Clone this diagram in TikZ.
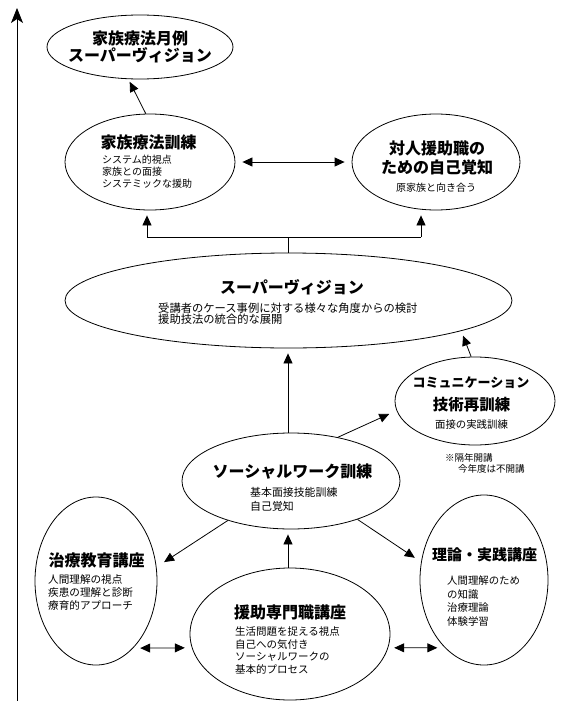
\documentclass[tikz,border=0pt]{standalone}
\usepackage{fontspec}
\setmainfont{Noto Sans CJK JP}
\usetikzlibrary{shapes.geometric,arrows.meta,calc}
\lineskiplimit=-20pt
\begin{document}
\begin{tikzpicture}[x=1pt,y=-1pt,
  ell/.style={ellipse,draw,line width=0.8pt,inner sep=0pt},
  ttl/.style={inner sep=0pt,align=center,font=\fontsize{16}{17}\selectfont\bfseries},
  sub/.style={inner sep=0pt,anchor=west,align=left,font=\fontsize{10.5}{12.7}\selectfont},
  plain/.style={inner sep=0pt,align=center},
  conn/.style={line width=0.8pt},
  arr/.style={conn,-{Triangle[length=10pt,width=9pt]}},
  dbl/.style={conn,{Triangle[length=10pt,width=9pt]}-{Triangle[length=10pt,width=9pt]}},
  axis/.style={line width=0.9pt,-{Stealth[length=15pt,width=12pt,inset=4pt]}}]
\path[fill=white,use as bounding box] (0,0) rectangle (575,701);

% axis
\coordinate (axB) at (17,701);
\coordinate (axT) at (17,8);
\draw[axis] (axB) -- (axT);

% ellipses
\node[ell,minimum width=186pt,minimum height=64pt] (famsv) at (140,47) {};
\node[ell,minimum width=170pt,minimum height=96pt] (fam) at (150,162) {};
\node[ell,minimum width=168pt,minimum height=96pt] (self) at (436,162) {};
\node[ell,minimum width=447pt,minimum height=95pt] (sv) at (288.5,300.5) {};
\node[ell,minimum width=160pt,minimum height=88pt] (comm) at (475,401) {};
\node[ell,minimum width=218pt,minimum height=96pt] (sw) at (291,481) {};
\node[ell,minimum width=122pt,minimum height=168pt] (chi) at (96,581) {};
\node[ell,minimum width=200pt,minimum height=132pt] (enjo) at (290,634) {};
\node[ell,minimum width=128pt,minimum height=170pt] (riron) at (484,580) {};

% texts
\node[ttl] (famsvT) at (140,46.5) {家族療法月例\\スーパーヴィジョン};

\node[ttl] (famT) at (148.5,142) {家族療法訓練};
\node[sub,font=\fontsize{10}{11.8}\selectfont] (famS) at (102,171.5) {システム的視点\\家族との面接\\システミックな援助};

\node[ttl,font=\fontsize{16}{19}\selectfont\bfseries] (selfT) at (437,157.5) {対人援助職の\\ための自己覚知};
\node[plain,font=\fontsize{10}{12}\selectfont] (selfS) at (436,188) {原家族と向き合う};

\node[ttl] (svT) at (292,287) {スーパーヴィジョン};
\node[sub,font=\fontsize{11.3}{11}\selectfont] (svS) at (158,313.8) {受講者のケース事例に対する様々な角度からの検討\\援助技法の統合的な展開};

\node[plain,font=\fontsize{13}{13}\selectfont\bfseries] (commT1) at (471,383) {コミュニケーション};
\node[plain,font=\fontsize{15.5}{16}\selectfont\bfseries] (commT2) at (471.5,405) {技術再訓練};
\node[plain,font=\fontsize{10.4}{12}\selectfont] (commS) at (471.5,425) {面接の実践訓練};
\node[sub,font=\fontsize{9.5}{11}\selectfont] (note) at (445,463.5) {※隔年開講\\\hspace*{13pt}今年度は不開講};

\node[ttl] (swT) at (292.5,472) {ソーシャルワーク訓練};
\node[sub,font=\fontsize{10.9}{14.5}\selectfont] (swS) at (250,499.2) {基本面接技能訓練\\自己覚知};

\node[ttl] (chiT) at (96.5,560) {治療教育講座};
\node[sub,font=\fontsize{10.6}{13}\selectfont] (chiS) at (48,592) {人間理解の視点\\疾患の理解と診断\\療育的アプローチ};

\node[ttl] (enjoT) at (290,612) {援助専門職講座};
\node[sub,font=\fontsize{10.5}{12.7}\selectfont] (enjoS) at (235,650.5) {生活問題を捉える視点\\自己への気付き\\ソーシャルワークの\\基本的プロセス};

\node[ttl,font=\fontsize{15}{17}\selectfont\bfseries] (rironT) at (484.5,555) {理論・実践講座};
\node[sub,font=\fontsize{10.4}{13.7}\selectfont] (rironS) at (447,601) {人間理解のため\\の知識\\治療理論\\体験学習};

% connectors
\draw[arr,shorten >=3pt] (fam.95) -- (famsv.250);
\draw[dbl,shorten <=7pt,shorten >=7pt] (fam.east) -- (self.west);

\coordinate (brL) at (147,237);
\coordinate (brR) at (421,237);
\coordinate (brM) at (288,237);
\draw[conn] (brL) -- (brR);
\draw[arr,shorten >=5pt] (brL) -- (brL |- fam.south);
\draw[arr,shorten >=5pt] (brR) -- (brR |- self.south);
\draw[conn] (brM) -- (brM |- sv.north);

\draw[arr,shorten >=5pt] (sw.north -| brM) -- (sv.south -| brM);
\draw[arr,shorten >=5pt] (enjo.north -| brM) -- (sw.south -| brM);
\draw[arr,shorten >=5pt] (comm.95) -- (sv.-10);
\draw[arr,shorten >=8pt] (sw.43) -- (comm.187);
\draw[arr,shorten >=9pt] (sw.212) -- (chi.13);
\draw[arr,shorten >=7.5pt] (sw.-30) -- (riron.164);
\draw[dbl,shorten <=7pt,shorten >=7pt] (chi.-61) -- (enjo.188);
\draw[dbl,shorten <=6pt,shorten >=7.5pt] (enjo.-8) -- (riron.240);
\end{tikzpicture}
\end{document}
